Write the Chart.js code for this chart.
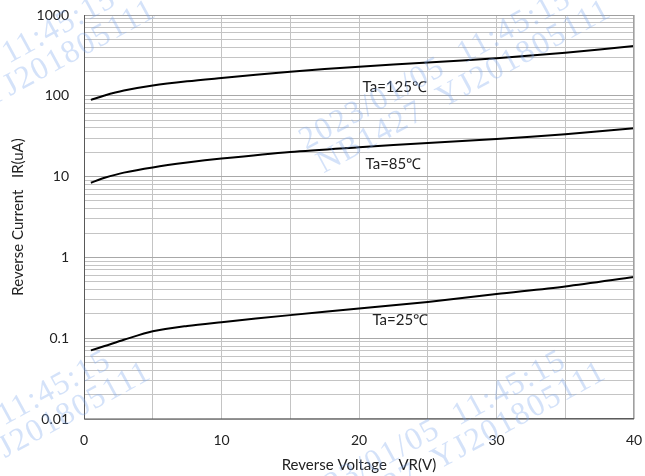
<!DOCTYPE html>
<html>
<head>
<meta charset="utf-8">
<script src="https://cdn.jsdelivr.net/npm/chart.js@4"></script>
<style>
  body { margin: 0; background: #fff; }
  #wrap { width: 645px; height: 476px; position: relative; }
</style>
</head>
<body>
<div id="wrap"><canvas id="myChart"></canvas></div>
<script>
// reverse voltage (V)
const voltage = [0.5, 1.5, 2.9, 5, 7.5, 10, 15, 20, 25, 30, 35, 40];
// reverse current (uA) per temperature
const current125 = [89, 101, 116, 134, 151, 166, 199, 229, 258, 292, 341, 413];
const current85 = [8.4, 9.66, 11.2, 13.0, 14.9, 16.7, 20.2, 23.1, 26.1, 29.2, 33.4, 39.6];
const current25 = [0.0706, 0.080, 0.0957, 0.122, 0.142, 0.158, 0.193, 0.233, 0.281, 0.352, 0.437, 0.571];

const curveLabels = ['Ta=125℃', 'Ta=85℃', 'Ta=25℃'];
// where each curve label sits, in data units
const labelX = [22.6, 22.5, 23.0];
const labelY = [128, 14.3, 0.167];

const xTickLabels = [0, 10, 20, 30, 40];
const yTickLabels = [0.01, 0.1, 1, 10, 100, 1000];

const watermarkLines = ['2023/01/05  11:45:15', 'NB1427  YJ201805111'];

const fontFamily = 'Lato, "Open Sans", sans-serif';

function toPoints(ys) {
  return voltage.map((v, i) => ({ x: v, y: ys[i] }));
}

function curve(ys) {
  return {
    data: toPoints(ys),
    borderColor: '#000',
    borderWidth: 2,
    pointRadius: 0,
    fill: false,
    tension: 0.3
  };
}

// draws the "Ta=..." text next to each curve
const curveText = {
  id: 'curveText',
  afterDatasetsDraw(chart) {
    const ctx = chart.ctx;
    const xs = chart.scales.x, ys = chart.scales.y;
    ctx.save();
    ctx.fillStyle = '#222';
    ctx.font = '15px ' + fontFamily;
    ctx.textAlign = 'center';
    ctx.textBaseline = 'middle';
    curveLabels.forEach((t, i) => {
      ctx.fillText(t, xs.getPixelForValue(labelX[i]), ys.getPixelForValue(labelY[i]));
    });
    ctx.restore();
  }
};

// faint tiled stamp that sits over the scanned chart
const watermark = {
  id: 'watermark',
  afterDraw(chart) {
    const ctx = chart.ctx;
    ctx.save();
    ctx.fillStyle = 'rgba(120, 165, 235, 0.32)';
    ctx.font = '32px "Liberation Serif", serif';
    ctx.letterSpacing = '1.5px';
    ctx.textBaseline = 'alphabetic';
    for (let i = -1; i <= 0; i++) {
      for (let j = 0; j <= 1; j++) {
        ctx.save();
        ctx.translate(306 + i * 455 - j * 5, 150 + j * 362);
        ctx.rotate(-0.5);
        ctx.fillText(watermarkLines[0], 0, 0);
        ctx.fillText(watermarkLines[1], 4, 29);
        ctx.restore();
      }
    }
    ctx.restore();
  }
};

// plot frame: dark left/bottom axis, lighter top/right
const frame = {
  id: 'frame',
  afterDatasetsDraw(chart) {
    const a = chart.chartArea, ctx = chart.ctx;
    ctx.save();
    ctx.lineWidth = 1;
    ctx.strokeStyle = '#a0a0a0';
    ctx.beginPath();
    ctx.moveTo(a.left, a.top + 0.5); ctx.lineTo(a.right, a.top + 0.5);
    ctx.moveTo(a.right - 0.5, a.top); ctx.lineTo(a.right - 0.5, a.bottom);
    ctx.stroke();
    ctx.strokeStyle = '#595959';
    ctx.beginPath();
    ctx.moveTo(a.left + 0.5, a.top); ctx.lineTo(a.left + 0.5, a.bottom);
    ctx.lineTo(a.right, a.bottom - 0.5);
    ctx.stroke();
    ctx.restore();
  }
};

const ctx = document.getElementById('myChart').getContext('2d');
new Chart(ctx, {
  type: 'line',
  data: {
    datasets: [curve(current125), curve(current85), curve(current25)]
  },
  options: {
    responsive: true,
    maintainAspectRatio: false,
    animation: false,
    layout: { padding: { top: 15, right: 11, left: 0, bottom: 0 } },
    plugins: {
      legend: { display: false },
      tooltip: { enabled: false }
    },
    scales: {
      x: {
        type: 'linear',
        min: 0,
        max: 40,
        afterBuildTicks: scale => {
          const t = [];
          for (let v = 0; v <= 40; v += 5) t.push({ value: v });
          scale.ticks = t;
        },
        afterFit: scale => {
          scale.height = 57;
          scale.paddingLeft = 0;
          scale.paddingRight = 0;
        },
        grid: { color: '#c4c4c4', drawTicks: false },
        border: { display: false },
        ticks: {
          padding: 13,
          color: '#222',
          font: { size: 14, family: fontFamily },
          maxRotation: 0,
          autoSkip: false,
          callback: v => xTickLabels.includes(v) ? String(v) : ''
        },
        title: {
          display: true,
          text: 'Reverse Voltage   VR(V)',
          color: '#222',
          font: { size: 15, family: fontFamily },
          padding: { top: 0, bottom: 2 }
        }
      },
      y: {
        type: 'logarithmic',
        min: 0.01,
        max: 1000,
        afterBuildTicks: scale => {
          const t = [];
          for (let d = 0; d < yTickLabels.length - 1; d++) {
            for (let m = 1; m <= 9; m++) t.push({ value: +(m * yTickLabels[d]).toPrecision(3) });
          }
          t.push({ value: yTickLabels[yTickLabels.length - 1] });
          scale.ticks = t;
        },
        afterFit: scale => {
          scale.width = 84;
          scale.paddingTop = 0;
          scale.paddingBottom = 0;
        },
        grid: {
          drawTicks: false,
          color: c => yTickLabels.includes(c.tick.value) ? '#a8a8a8' : '#c4c4c4'
        },
        border: { display: false },
        ticks: {
          padding: 15,
          color: '#222',
          font: { size: 14, family: fontFamily },
          autoSkip: false,
          callback: v => yTickLabels.includes(v) ? String(v) : ''
        },
        title: {
          display: true,
          text: 'Reverse Current   IR(uA)',
          color: '#222',
          font: { size: 15, family: fontFamily },
          padding: { top: 9, bottom: 0 }
        }
      }
    }
  },
  plugins: [curveText, frame, watermark]
});
</script>
</body>
</html>
